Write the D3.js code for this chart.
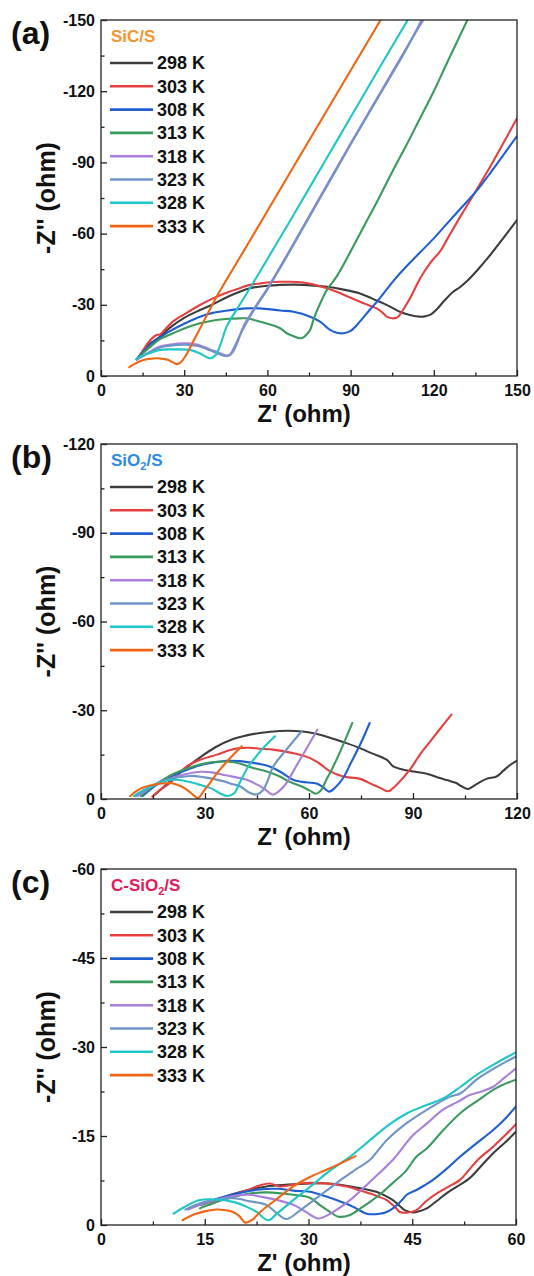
<!DOCTYPE html>
<html><head><meta charset="utf-8">
<script src="https://cdn.jsdelivr.net/npm/d3@7"></script>
<style>
body{margin:0;background:#fff}
svg{display:block}
text{font-family:Arial,"Liberation Sans",sans-serif;font-weight:bold;fill:#111}
</style>
</head><body>
<svg id="chart" width="534" height="1276"></svg>
<script>
// ---------- data ----------
const temps = ["298 K","303 K","308 K","313 K","318 K","323 K","328 K","333 K"];
const colors = ["#3d3d3d","#e5403f","#1f5fd0","#3b9a5d","#a97fdc","#6e95c9","#1ec5c9","#f06412"];

// each curve: [Z' (ohm), -Z'' (ohm)]
const sicS = [
 [[12.9,7],[15,10],[17,13],[20,15.5],[21.3,16.6],[25,20.5],[30,24.5],[35.7,27.8],[40,30],[45,33],[50,35.5],[53.7,37],[60,38],[64.6,38.4],[70,38.5],[76,38.2],[81.4,37.6],[87,36.5],[93.4,34.8],[98,32.5],[102,30.5],[105.4,28.5],[108,27],[111.4,25.7],[115,25],[117,25.2],[119,26],[121,28],[124,32],[127,35.5],[129.5,37.5],[132,40],[136,45],[140,50.5],[145,58],[150,65.7]],
 [[12.9,7],[15,10.5],[17,14],[19,16.5],[20.1,17.3],[21.3,17.5],[23,19.5],[26,23],[30,26],[35.7,29.9],[40,32.5],[45,35],[50,37],[53.7,38.4],[57.3,39],[60,39.4],[64.6,39.7],[68,39.7],[72,39.5],[76,38.8],[80,37.5],[85,35.5],[90,33],[95,30.5],[99.4,28.5],[101.7,26.5],[103,25],[105.4,24.3],[107,24.8],[109,28],[112,34],[115,41],[118.6,47.5],[120,49.5],[122.2,52.4],[125,58],[130,68],[135.4,78.4],[140,87.5],[145,98],[150,108.6]],
 [[12.9,7],[15,10],[18,13.5],[21,16],[25,19],[30,22],[35.7,25],[40,26.5],[45,27.5],[52.5,28.5],[57.3,28.5],[64.6,27.6],[69.4,27.1],[75,25.2],[79,22.9],[82.6,19.4],[85,18.2],[87.4,18],[90,19],[93.4,23],[97,28],[100,32],[105.4,40],[110,46],[115,52],[120,58],[125,64.5],[130,71],[135.4,78],[140,85],[145,93],[150,101.1]],
 [[12.9,7],[15,9.5],[18,12.5],[21.3,15.5],[25,17.5],[30,20],[35.7,22.2],[40,23.3],[45,24],[50,24.3],[52.5,24.3],[57.3,22.9],[60,22],[64.6,20.1],[67,18],[69,17],[71.8,15.9],[73,16.3],[74.5,18],[75.4,19.4],[77,25],[79.6,32],[81.4,36.2],[85,42],[90,52.5],[95,63.5],[100,74.5],[105,86],[110,97],[115,108.5],[120,120],[125,132.5],[132.1,150]],
 [[12.9,7],[15,8.5],[18,10.5],[21.3,12.4],[25,13.3],[30.9,13.8],[35,13.2],[39.3,11.2],[42,10],[44.7,8.8],[46.5,8.8],[48,11],[49.5,15],[51.3,20.8],[55,28],[60,37],[64.6,46],[70,57],[80,77.5],[90,98],[100,118],[110,138],[116.2,150]],
 [[12.9,7],[15,8.3],[18,10.2],[21.3,12],[25,12.8],[30,13.2],[35,12.6],[39.3,10.8],[42,9.5],[45.3,8.4],[46.5,9],[48,12],[50,17],[52,21.5],[55,27.5],[60,36.5],[64.6,45.5],[70,56.5],[80,77],[90,97.5],[100,117.5],[110,137.5],[115.6,150]],
 [[12.9,7.4],[16,9],[21.3,11],[26,11.2],[32.1,11],[35.7,9.5],[38,8],[39.3,7.5],[41.1,8.5],[43,13],[45.3,20.8],[50,30],[55,39.5],[59.8,48.9],[70,69],[80,89],[90,109],[100,129],[110.6,150]],
 [[10.2,3.7],[12,5],[15.3,6.7],[18,7.3],[21.3,7.4],[24,6.8],[25.5,6],[27.3,5],[28.5,5.5],[30.3,8.1],[33,14],[35.7,20],[41.7,33.4],[50,49.8],[60,69.5],[70,89.3],[80,109],[90,128.7],[100.8,150]]
];

const sio2S = [
 [[15.6,1.5],[17,3],[20,6],[24,10],[28.5,14],[33,17.5],[38.1,20.3],[42,21.5],[45.8,22.3],[51.6,23],[56,23],[60.2,22.5],[64,21.5],[67.9,20],[71,18.8],[74.7,17.2],[78,15.5],[82.4,13.3],[84.3,11],[87,10],[90.1,9.3],[94,8.5],[97.7,7.1],[100,6.3],[102.5,5.4],[104,4.3],[105.9,3.4],[108,4.8],[111.2,6.8],[114.1,7.6],[116,9.5],[118,11.5],[120,13]],
 [[14.8,0.8],[17,3],[20,5.5],[24.7,11],[28,13],[33.4,15],[37,16.5],[40.1,17.2],[43,17.3],[45.8,17],[49.7,16.7],[55.4,15.5],[60.2,13.9],[63,12],[65.9,9.5],[69.8,7.6],[74.7,6.8],[78.5,4.8],[81,3.5],[82.8,2.6],[85,4.5],[87.1,7.1],[89.1,9.9],[92,15],[95,19.5],[98,24],[101.1,28.5]],
 [[12,1],[14,3],[17,5.5],[21,8],[25,10],[30,11.8],[36.2,12.9],[40,12.8],[43.9,12.2],[47.8,11.3],[51.6,9.3],[55.4,6.5],[58,5.8],[62.2,5.2],[64,4],[65.8,2.5],[67.5,3.8],[69.8,7],[72,12],[75,19],[77.5,25.7]],
 [[11.5,1],[13.5,3],[16.5,5.5],[20,8],[24,10],[28,11.5],[32.4,12.5],[37,12.6],[40,12],[43.9,10.5],[47.8,9.3],[51.6,7.6],[54,6],[57.4,4.5],[60,3],[62,1.8],[63.5,3],[65,6.5],[67,11],[69,16],[72.5,25.7]],
 [[10.5,1],[12.5,2.5],[15,4.5],[19,6.5],[23,8],[28.5,9.2],[32,9],[36,8],[42,6.5],[44.5,5.2],[46.8,3.7],[48.7,2],[49.7,1.5],[51.2,2.5],[53.5,5.4],[56,10.5],[59,16.5],[62.4,23.4]],
 [[10,1],[12,2.5],[15,4.5],[19,6.5],[25.6,7.8],[30,7.3],[34.3,6.3],[38.1,5],[40.1,4.3],[43,2],[44.9,1.5],[46.8,3.1],[48,6],[49.7,11],[53,16],[57.9,22.9]],
 [[9.5,1],[11.5,2.5],[14,4],[17,5.5],[20.8,6.5],[24.7,6],[28.5,4.8],[32,3.5],[34.5,1.8],[36.5,1],[38.5,2],[40,5.5],[42.5,11],[44.5,14],[47,17.5],[50.2,21.2]],
 [[8.4,0.9],[10,2.5],[12,3.8],[15.1,4.8],[19.9,5.4],[22,4.8],[24.7,3.2],[26.5,1.5],[28,0.3],[29.5,2.5],[31.4,5.4],[34,9.5],[37,13.5],[40.6,17.8]]
];

const cSio2S = [
 [[14.5,3.4],[17,4.4],[20,5.5],[23.9,6.5],[27,6.8],[30.2,7],[33,7],[35,6.7],[37.5,6.2],[39.8,5.6],[41,5],[42.2,4.2],[43.2,3.2],[43.9,2.5],[45.1,2.1],[46,2.3],[47.1,2.8],[48.5,4],[49.9,5.3],[51.5,6.5],[53.3,7.9],[55,10],[56.7,12.1],[58.5,14],[60,15.7]],
 [[15.7,3.4],[18,4.6],[21,5.8],[23,6.7],[24.4,7],[25.9,6.5],[28.7,7],[30.2,7.1],[32.6,7],[35.5,6.5],[37,6],[38.9,5.3],[40.3,4.7],[41.3,4.2],[42.7,2.8],[43.2,2.2],[44.4,2.1],[45.6,2.5],[47,4],[48.5,5.3],[50,6.3],[51.9,7.6],[53,9],[54.5,11],[56.7,13.2],[58.5,15.2],[60,17]],
 [[14.5,3.5],[17,4.5],[20,5.4],[23,6],[25.5,6.1],[27.8,5.8],[30.2,5.6],[32.6,4.8],[34.5,4],[36.4,3.1],[37.5,2.4],[38.4,1.9],[40.3,1.9],[41.3,2.2],[42.2,2.8],[43.5,4.2],[44.2,5.1],[45.6,5.9],[46.8,6.7],[48,7.6],[50,9.5],[51.9,11.5],[54,13.5],[56.7,16],[58.5,18],[60,20]],
 [[14.3,2.8],[17,4],[21.5,5.3],[24,5.5],[27.8,5.1],[30.2,4.6],[31.6,3.4],[33,2.3],[34.3,1.4],[36,1.7],[37.5,2.8],[38.9,3.9],[40.5,5.3],[42.2,7.1],[44,9],[45.6,11.5],[47.1,12.9],[49.5,16],[51.9,18.8],[54.5,21],[57.2,23.1],[60,24.5]],
 [[12.6,2.6],[15,3.7],[19.1,4.9],[21.5,5.1],[23,4.8],[25.5,4.2],[27.8,3.4],[29.5,2.3],[31.4,1.1],[32.5,1.5],[33.6,2.2],[36,4.2],[38.9,7.3],[42.2,11],[45,15],[47,17],[49.5,19.5],[51.5,20.7],[53.3,21.9],[55,22.5],[56.7,23.3],[58.3,24.8],[60,26.4]],
 [[12.2,2.6],[15,3.9],[19.1,4.5],[21.5,4],[23.9,3.4],[25.4,2],[26.8,1],[28.5,2.2],[30.2,3.7],[32.5,5.7],[35,7.9],[37,9.5],[38.9,11],[41.3,14.3],[44,17],[47.1,19.4],[50.4,21.6],[52,22.2],[54.3,24.5],[57,26.5],[60,28.4]],
 [[10.5,1.9],[12,3],[14.3,4.2],[16.5,4.3],[19.1,3.9],[21,3.1],[22.5,2.2],[24.2,0.8],[25.5,2],[27.8,4.2],[30.2,6.4],[32.6,8.7],[34.5,10.3],[36,11.5],[38.9,14.3],[41.5,16.8],[44.2,18.8],[46.6,20],[48,20.6],[49.9,21.6],[52,23.3],[54.3,25.3],[57,27.2],[60,29.1]],
 [[11.8,0.8],[13.5,1.8],[15,2.3],[16.7,2.6],[18,2.5],[19.1,2.2],[20,1.5],[20.9,0.4],[22,1],[23,2.2],[25,4],[27.8,6.5],[30.2,8.1],[32.6,9.3],[34.5,10.3],[36.8,11.6]]
];

const xTicksA = [0,30,60,90,120,150];
const yTicksA = [0,-30,-60,-90,-120,-150];
const xTicksB = [0,30,60,90,120];
const yTicksB = [0,-30,-60,-90,-120];
const xTicksC = [0,15,30,45,60];
const yTicksC = [0,-15,-30,-45,-60];

const panelLabels = ["(a)","(b)","(c)"];
const legendTitles = [["SiC/S"],["SiO","2","/S"],["C-SiO","2","/S"]];
const titleColors = ["#f3952f","#2d8ae6","#e3195a"];
const xTitle = "Z' (ohm)";
const yTitle = "-Z'' (ohm)";

// ---------- layout ----------
const svg = d3.select("#chart");
const panels = [
  {data:sicS,  xt:xTicksA, yt:yTicksA, left:101, right:517, top:20,  bottom:376},
  {data:sio2S, xt:xTicksB, yt:yTicksB, left:101, right:517, top:444, bottom:799},
  {data:cSio2S,xt:xTicksC, yt:yTicksC, left:101, right:516, top:869, bottom:1225}
];

function minorOf(t){
  const out=[]; for(let i=0;i<t.length-1;i++) out.push((t[i]+t[i+1])/2); return out;
}

panels.forEach((p,pi)=>{
  const g = svg.append("g");
  const x = d3.scaleLinear().domain([p.xt[0], p.xt[p.xt.length-1]]).range([p.left,p.right]);
  const y = d3.scaleLinear().domain([p.yt[0], p.yt[p.yt.length-1]]).range([p.bottom,p.top]);

  const clipId = "clip"+pi;
  svg.append("clipPath").attr("id",clipId).append("rect")
    .attr("x",p.left).attr("y",p.top).attr("width",p.right-p.left).attr("height",p.bottom-p.top);

  // curves
  const line = d3.line().x(d=>x(d[0])).y(d=>y(-d[1])).curve(d3.curveCatmullRom.alpha(0.5));
  const lineG = g.append("g").attr("clip-path",`url(#${clipId})`);
  p.data.forEach((c,i)=>{
    lineG.append("path").datum(c).attr("d",line)
      .attr("fill","none").attr("stroke",colors[i]).attr("stroke-width",2.1)
      .attr("stroke-linejoin","round").attr("stroke-linecap","round");
  });

  // frame
  g.append("rect").attr("x",p.left).attr("y",p.top).attr("width",p.right-p.left).attr("height",p.bottom-p.top)
    .attr("fill","none").attr("stroke","#222").attr("stroke-width",1.3);

  // axes
  const xa = g.append("g").attr("transform",`translate(0,${p.bottom})`)
    .call(d3.axisBottom(x).tickValues(p.xt).tickSize(-6).tickPadding(9).tickFormat(d=>String(d)));
  const xm = g.append("g").attr("transform",`translate(0,${p.bottom})`)
    .call(d3.axisBottom(x).tickValues(minorOf(p.xt)).tickSize(-3.5).tickFormat(""));
  const ya = g.append("g").attr("transform",`translate(${p.left},0)`)
    .call(d3.axisLeft(y).tickValues(p.yt).tickSize(-6).tickPadding(6).tickFormat(d=>String(d)));
  const ym = g.append("g").attr("transform",`translate(${p.left},0)`)
    .call(d3.axisLeft(y).tickValues(minorOf(p.yt)).tickSize(-3.5).tickFormat(""));
  [xa,xm,ya,ym].forEach(a=>{
    a.select(".domain").remove();
    a.selectAll(".tick line").attr("stroke","#222").attr("stroke-width",1.3);
    a.selectAll(".tick text").attr("font-size",16).attr("font-family",'Arial,"Liberation Sans",sans-serif')
      .attr("font-weight","bold").attr("fill","#111");
  });

  // axis titles
  g.append("text").attr("x",304).attr("y",p.bottom+45.5).attr("text-anchor","middle")
    .attr("font-size",24).text(xTitle);
  g.append("text").attr("transform",`translate(55,${(p.top+p.bottom)/2}) rotate(-90)`)
    .attr("text-anchor","middle").attr("font-size",25).text(yTitle);

  // panel label
  g.append("text").attr("x",11).attr("y",p.top+24).attr("font-size",32).text(panelLabels[pi]);

  // legend title
  const lt = g.append("text").attr("x",111).attr("y",p.top+22).attr("font-size",17).style("fill",titleColors[pi]);
  const parts = legendTitles[pi];
  lt.append("tspan").text(parts[0]);
  if(parts.length>1){
    lt.append("tspan").attr("font-size",11).attr("dy",4).text(parts[1]);
    lt.append("tspan").attr("dy",-4).text(parts[2]);
  }

  // legend entries
  temps.forEach((t,i)=>{
    const yy = p.top + 43 + i*23.3;
    g.append("line").attr("x1",110).attr("x2",153).attr("y1",yy).attr("y2",yy)
      .attr("stroke",colors[i]).attr("stroke-width",2.6);
    g.append("text").attr("x",157).attr("y",yy).attr("dy","0.36em").attr("font-size",18).text(t);
  });
});
</script>
</body></html>
